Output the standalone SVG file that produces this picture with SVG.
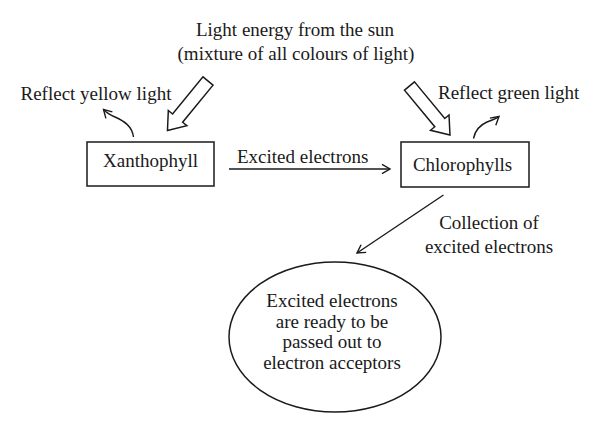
<svg xmlns="http://www.w3.org/2000/svg" width="600" height="432" viewBox="0 0 600 432">
<style>
text{font-family:"Liberation Serif","Times New Roman",serif;font-size:19px;fill:#1a1a1a}
.box{fill:#fff;stroke:#1a1a1a;stroke-width:1.5}
.ln{fill:none;stroke:#1a1a1a;stroke-width:1.4}
.hollow{fill:#fff;stroke:#1a1a1a;stroke-width:1.5;stroke-linejoin:miter}
</style>
<defs>
<marker id="v" markerUnits="userSpaceOnUse" markerWidth="14" markerHeight="14" refX="0" refY="0" viewBox="-10 -7 12 14" orient="auto">
<path d="M-8,-4.6 L0,0 L-8,4.6" fill="none" stroke="#1a1a1a" stroke-width="1.4"/>
</marker>
</defs>
<rect width="600" height="432" fill="#fff"/>
<g id="title">
<text x="295" y="36" text-anchor="middle">Light energy from the sun</text>
<text x="296" y="60" text-anchor="middle">(mixture of all colours of light)</text>
</g>
<g id="light-arrows">
<polygon class="hollow" transform="translate(208,81) rotate(129.3)" points="0,-6.5 48,-6.5 48,-12 64,0 48,12 48,6.5 0,6.5"/>
<polygon class="hollow" transform="translate(409.5,86) rotate(50.4)" points="0,-6.5 47.5,-6.5 47.5,-12 63.5,0 47.5,12 47.5,6.5 0,6.5"/>
</g>
<g id="xanthophyll">
<rect class="box" x="87" y="142" width="127" height="44"/>
<text x="150.5" y="166.5" text-anchor="middle">Xanthophyll</text>
</g>
<g id="chlorophylls">
<rect class="box" x="401" y="142" width="128" height="45"/>
<text x="462.5" y="171" text-anchor="middle">Chlorophylls</text>
</g>
<g id="result">
<ellipse class="box" cx="335" cy="337" rx="106" ry="75"/>
<text x="332" y="307" text-anchor="middle">Excited electrons</text>
<text x="332" y="327.5" text-anchor="middle">are ready to be</text>
<text x="332" y="348" text-anchor="middle">passed out to</text>
<text x="332" y="368.5" text-anchor="middle">electron acceptors</text>
</g>
<g id="labels">
<text x="20.5" y="100">Reflect yellow light</text>
<text x="438" y="99">Reflect green light</text>
<text x="237" y="163">Excited electrons</text>
<text x="489" y="229" text-anchor="middle">Collection of</text>
<text x="489" y="253" text-anchor="middle">excited electrons</text>
</g>
<g id="connectors">
<path class="ln" d="M229,169 L390,169" marker-end="url(#v)"/>
<path class="ln" d="M443.5,195 L357,253" marker-end="url(#v)"/>
<path class="ln" d="M133.5,137 C132,126 124,121 115,117 S106,112 103.5,109.5" marker-end="url(#v)"/>
<path class="ln" d="M473.5,138.5 C475,131 480,125 487,122 S496,119 499,116.5" marker-end="url(#v)"/>
</g>
</svg>
